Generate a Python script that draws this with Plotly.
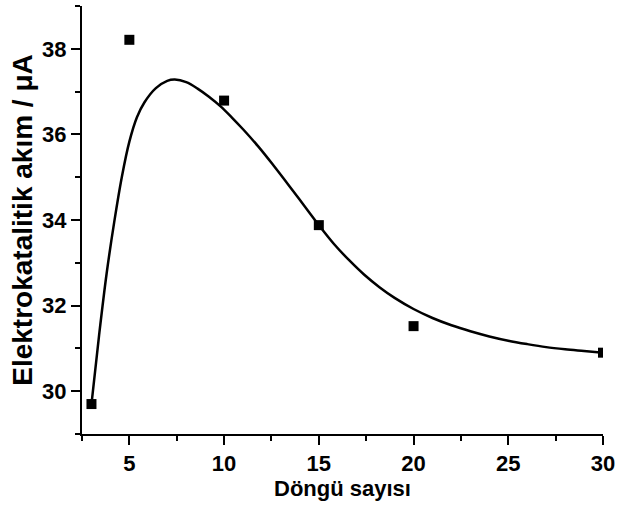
import plotly.graph_objects as go

# Measured electrocatalytic current vs. number of deposition cycles
cycles = [3, 5, 10, 15, 20, 30]
current_uA = [29.70, 38.21, 36.79, 33.88, 31.52, 30.90]

# Smooth fitted trend through the measurements
fit_cycles = [3.0, 3.4, 3.8, 4.2, 4.6, 5.0, 5.4, 5.8, 6.4, 7.0, 7.4, 8.0,
              8.6, 9.2, 9.8, 10.4, 11.0, 11.8, 12.6, 13.4, 14.2, 15.0, 15.8,
              16.6, 17.4, 18.2, 19.0, 20.0, 21.0, 22.0, 23.0, 24.0, 25.0,
              26.0, 27.0, 28.0, 29.0, 30.0]
fit_current = [29.70, 31.30, 32.75, 33.95, 35.00, 35.83, 36.40, 36.75, 37.08,
               37.25, 37.28, 37.22, 37.07, 36.88, 36.66, 36.40, 36.12, 35.72,
               35.28, 34.82, 34.35, 33.88, 33.44, 33.06, 32.72, 32.43, 32.18,
               31.92, 31.71, 31.54, 31.40, 31.28, 31.18, 31.10, 31.03, 30.98,
               30.94, 30.90]

x_ticks = [5, 10, 15, 20, 25, 30]
y_ticks = [30, 32, 34, 36, 38]

FONT = "Liberation Sans, Arial, sans-serif"

fig = go.Figure()
fig.add_trace(go.Scatter(
    x=fit_cycles, y=fit_current, mode="lines",
    line=dict(color="black", width=2.5, shape="spline", smoothing=1.0),
    hoverinfo="skip", showlegend=False,
))
fig.add_trace(go.Scatter(
    x=cycles, y=current_uA, mode="markers",
    marker=dict(symbol="square", size=10, color="black"),
    showlegend=False,
))

axis_common = dict(
    showline=True, linecolor="black", linewidth=2,
    ticks="outside", tickcolor="black", tickwidth=2, ticklen=9,
    showgrid=False, zeroline=False, mirror=False,
    tickfont=dict(family=FONT, size=22, color="black", weight="bold"),
)

fig.update_xaxes(
    range=[2.5, 30], tickvals=x_ticks,
    minor=dict(dtick=2.5, tick0=0, ticklen=5, tickwidth=2, tickcolor="black",
               ticks="outside", showgrid=False),
    title=dict(text="Döngü sayısı", standoff=5,
               font=dict(family=FONT, size=22, color="black", weight="bold")),
    **axis_common,
)
fig.update_yaxes(
    range=[29, 39], tickvals=y_ticks,
    minor=dict(dtick=1, tick0=29, ticklen=5, tickwidth=2, tickcolor="black",
               ticks="outside", showgrid=False),
    title=dict(text="Elektrokatalitik akım / μA", standoff=1,
               font=dict(family=FONT, size=28, color="black", weight="bold")),
    **axis_common,
)

fig.update_layout(
    width=621, height=510,
    margin=dict(l=82, r=13, t=6, b=76),
    paper_bgcolor="white", plot_bgcolor="white",
)

fig.write_html("out.html")
